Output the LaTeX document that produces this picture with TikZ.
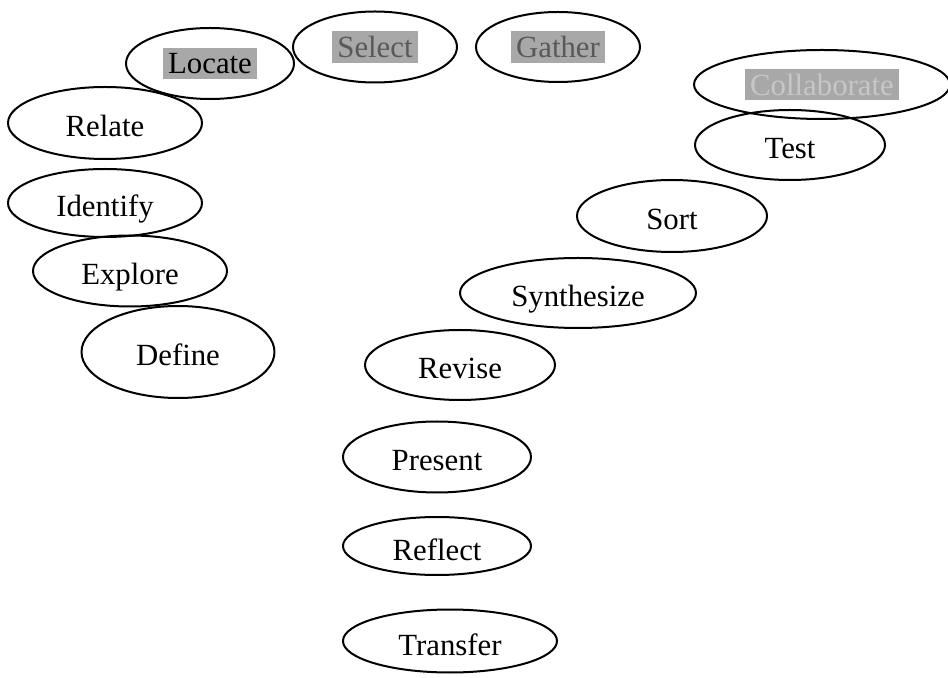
\documentclass[tikz,border=0pt]{standalone}
\usepackage{fontspec}
\setmainfont{Liberation Serif}
\usepackage{tikz}
\usetikzlibrary{shapes.geometric}
\definecolor{hlgray}{HTML}{A8A8A8}
\setlength{\fboxsep}{2.5pt}
\newcommand{\hlbox}[2][black]{\colorbox{hlgray}{\textcolor{#1}{#2}}}
\tikzset{
  every picture/.style={line join=round, line cap=round},
  ring/.style={ellipse, draw, line width=1pt, inner sep=0pt,
    font=\fontsize{15.4}{18}\selectfont},
  oval/.style={ring, text height=14pt, text depth=0pt},
}
\begin{document}
\begin{tikzpicture}[x=0.5pt,y=-0.5pt]
\useasboundingbox (0,0) rectangle (948,678);
% top row
\node[ring,minimum width=84pt,minimum height=35.5pt](loc) at (210,63.5){\hlbox{Locate}};
\node[ring,minimum width=82pt,minimum height=35.5pt](sel) at (375,47){\hlbox[black!65]{Select}};
\node[ring,minimum width=82pt,minimum height=35pt](gat) at (558,47){\hlbox[black!65]{Gather}};
\node[ring,minimum width=128pt,minimum height=34.5pt](col) at (822,84.5){\hlbox[black!22]{Collaborate}};
% left arm
\node[oval,minimum width=97pt,minimum height=36pt](rel) at (105,123){Relate};
\node[oval,minimum width=97pt,minimum height=34pt](ide) at (105,203){Identify};
\node[oval,minimum width=97pt,minimum height=35.5pt](exp) at (130,271){Explore};
\node[oval,minimum width=96.5pt,minimum height=46pt](def) at (178,352){Define};
% right arm
\node[oval,minimum width=95pt,minimum height=35pt](tes) at (790,145){Test};
\node[oval,minimum width=95pt,minimum height=36pt](sor) at (672,216){Sort};
\node[oval,minimum width=118pt,minimum height=35pt](syn) at (578,293){Synthesize};
\node[oval,minimum width=95pt,minimum height=35pt](rev) at (460,365){Revise};
% stem
\node[oval,minimum width=94pt,minimum height=35.5pt](pre) at (437,457){Present};
\node[oval,minimum width=94pt,minimum height=29pt](ref) at (437,546){Reflect};
\node[oval,minimum width=107pt,minimum height=31.5pt](tra) at (450,641){Transfer};
\end{tikzpicture}
\end{document}
